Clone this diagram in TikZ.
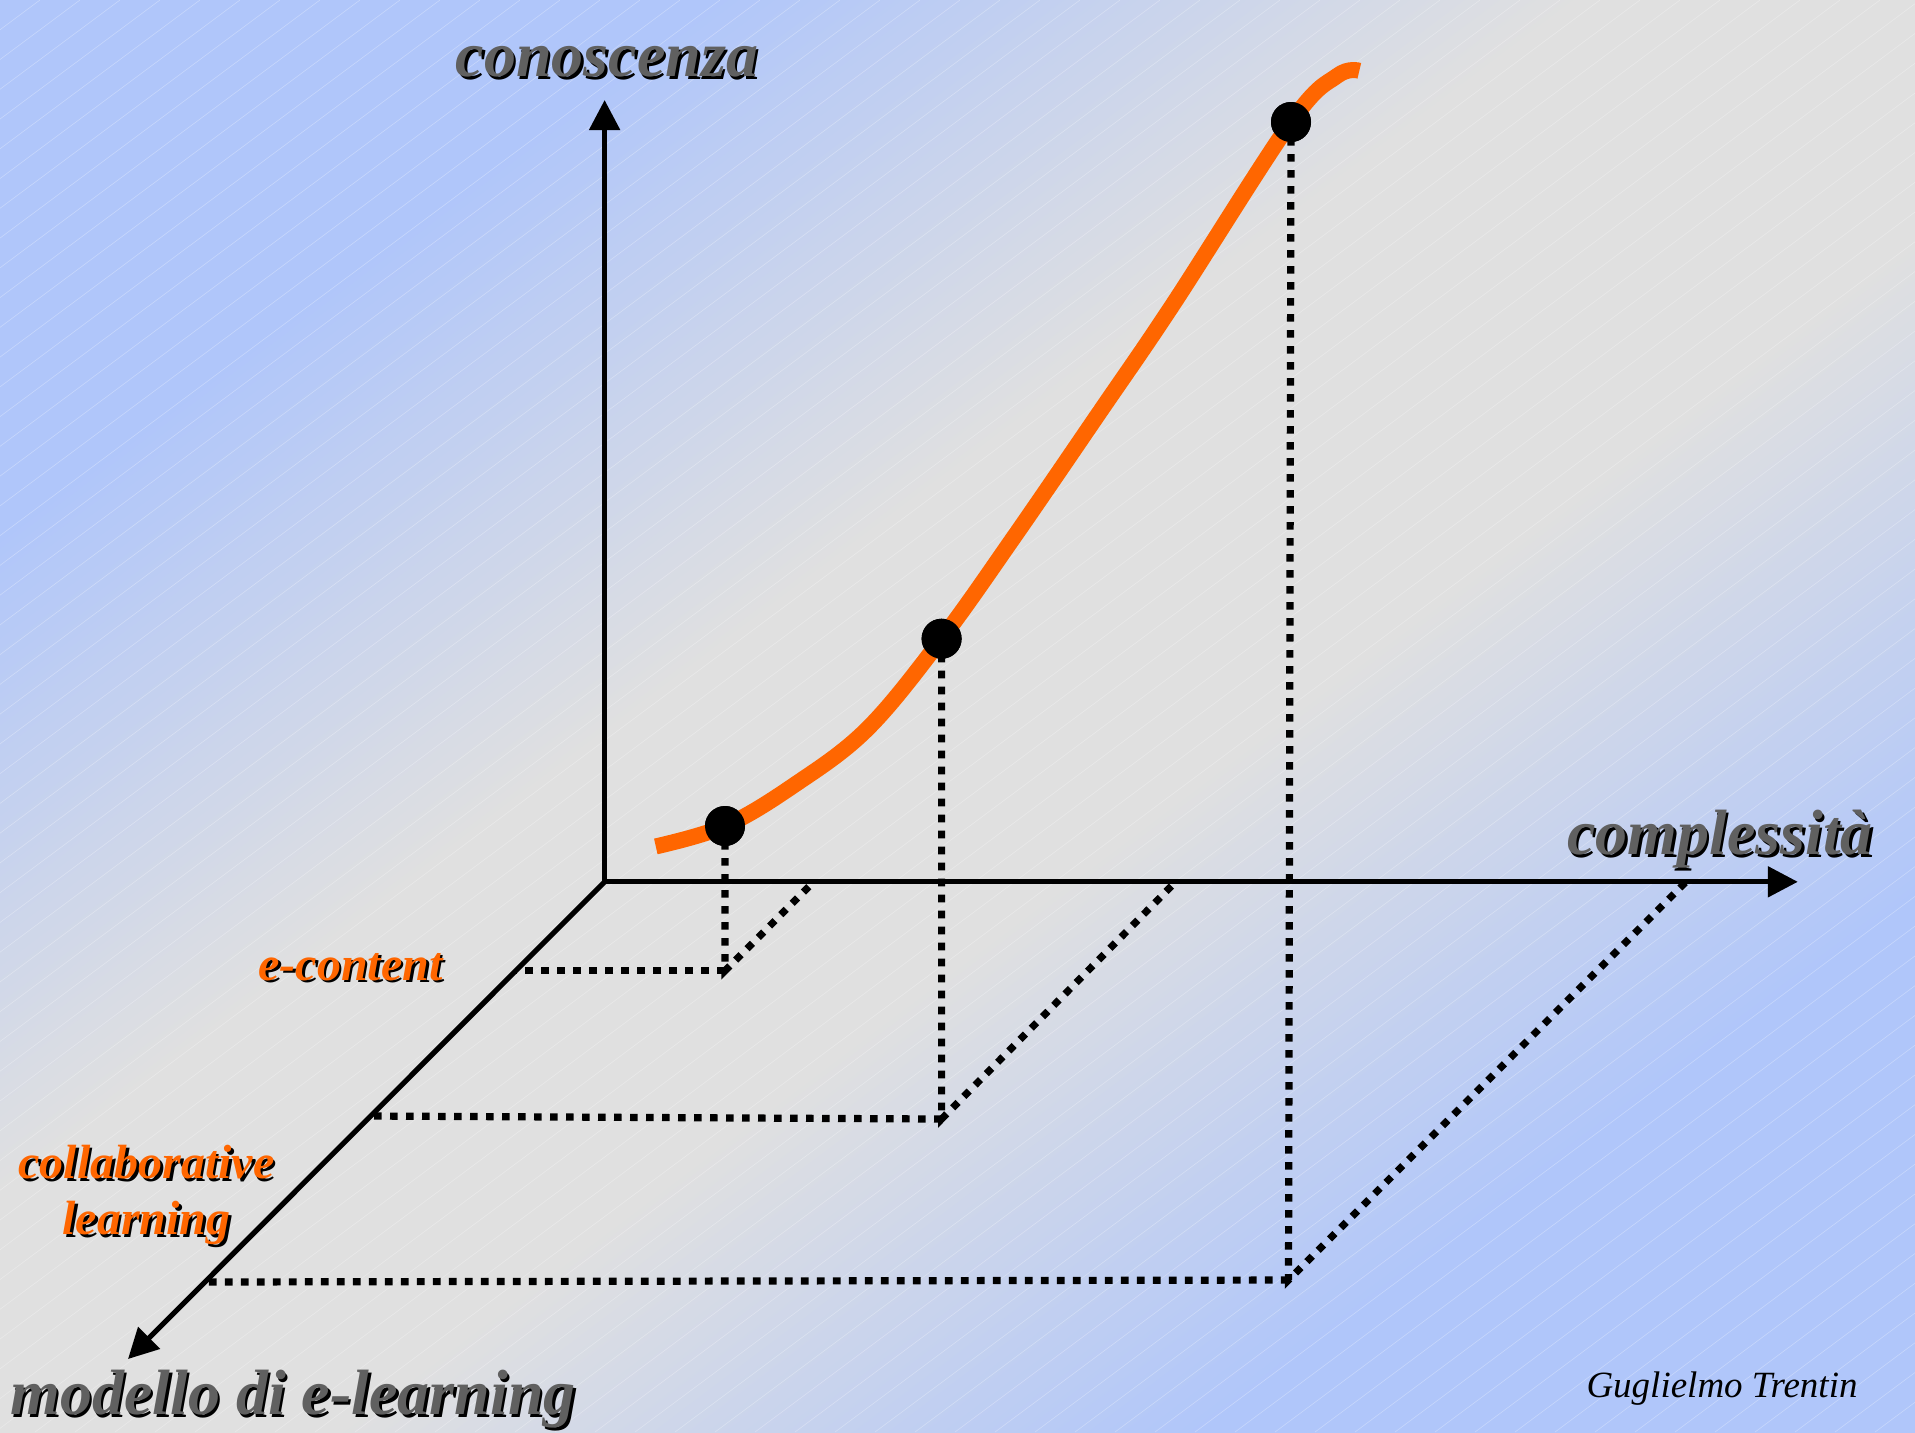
\documentclass[tikz,border=0pt]{standalone}
\usepackage{fontspec}
\setmainfont{Liberation Serif}
\usetikzlibrary{arrows.meta}

\definecolor{sfondoblu}{RGB}{176,198,250}
\definecolor{sfondogrigio}{RGB}{224,224,224}
\definecolor{arancio}{RGB}{255,102,0}
\definecolor{grigiotesto}{RGB}{96,96,96}

\pgfdeclareverticalshading{sfondo}{100bp}{color(0bp)=(sfondoblu); color(28bp)=(sfondoblu);
  color(44bp)=(sfondogrigio); color(56bp)=(sfondogrigio); color(72bp)=(sfondoblu); color(100bp)=(sfondoblu)}

\tikzset{
  asse/.style={line width=2.6pt, -{Triangle[length=15pt,width=15pt]}},
  proiezione/.style={line width=3.6pt, dash pattern=on 3.8pt off 4.2pt},
  punto/.style={circle, fill=black, inner sep=0pt, minimum size=20pt},
  titolo/.style={font=\fontsize{32}{36}\selectfont\bfseries\itshape, text=grigiotesto, inner sep=0pt},
  etichetta/.style={font=\fontsize{24}{28}\selectfont\bfseries\itshape, text=arancio, align=center, inner sep=0pt},
  ombra/.style={text=black, xshift=1.3pt, yshift=-1.3pt},
}

\begin{document}
\begin{tikzpicture}[x=0.5pt, y=-0.5pt]
        % Sfondo
        \shade[shading=sfondo, shading angle=37] (0,0) rectangle (1915,1432);
        \begin{scope}
          \clip (0,0) rectangle (1915,1432);
          \foreach \x in {0,40,...,3840}
            \draw[white, opacity=0.3, line width=0.3pt] (\x,0) -- (\x-1925,1432);
        \end{scope}

        % Assi
        \coordinate (origine) at (604.6,881.8);
        \coordinate (asseY) at (604.6,100);
        \coordinate (asseX) at (1797.8,881.8);
        \coordinate (asseZ) at (128,1359);

        % Punti della curva
        \node (p1) [punto] at (725,826) {};
        \node (p2) [punto] at (941.6,638.7) {};
        \node (p3) [punto] at (1291,122) {};

        % Proiezioni sul piano
        \coordinate (base1) at (725,970.8);
        \coordinate (base2) at (941.6,1119);
        \coordinate (base3) at (1288.5,1280);
        \coordinate (x1) at (813.6,881.8);
        \coordinate (x2) at (1175.6,881.8);
        \coordinate (x3) at (1686,881.8);
        \coordinate (z1) at (515.6,970.8);
        \coordinate (z2) at (368.6,1116);
        \coordinate (z3) at (206.6,1282);

        \draw[proiezione] (p1.center) -- (base1) -- (x1);
        \draw[proiezione] (base1) -- (z1);
        \draw[proiezione] (p2.center) -- (base2) -- (x2);
        \draw[proiezione] (base2) -- (z2);
        \draw[proiezione] (p3.center) -- (base3) -- (x3);
        \draw[proiezione] (base3) -- (z3);

        % Frecce
        \draw[asse] (origine) -- (asseY);
        \draw[asse] (origine) -- (asseX);
        \draw[asse] (origine) -- (asseZ);

        % Curva
        \draw[arancio, line width=8pt] plot[smooth, tension=0.6] coordinates {
          (655.8,846.4) (725,826) (793.8,785.3) (867.1,729.1) (941.6,638.7)
          (1013.7,537.4) (1099.2,412.8) (1172.4,305.3) (1291,122)
          (1337.3,75.7) (1359.3,70.8)};
        \node[punto] at (p1) {};
        \node[punto] at (p2) {};
        \node[punto] at (p3) {};

        % Etichette
        \node (conoscenzaOmbra) [titolo, ombra] at (607,62) {conoscenza};
        \node (conoscenza) [titolo] at (607,62) {conoscenza};
        \node (complessitaOmbra) [titolo, ombra] at (1720,839) {complessità};
        \node (complessita) [titolo] at (1720,839) {complessità};
        \node (modelloOmbra) [titolo, ombra] at (293,1399) {modello di e-learning};
        \node (modello) [titolo] at (293,1399) {modello di e-learning};
        \node (econtentOmbra) [etichetta, ombra] at (350.5,967) {e-content};
        \node (econtent) [etichetta] at (350.5,967) {e-content};
        \node (collabOmbra) [etichetta, ombra] at (146.6,1195) {collaborative\\learning};
        \node (collab) [etichetta] at (146.6,1195) {collaborative\\learning};
        \node (autore) [font=\fontsize{18.5}{20}\selectfont\itshape, inner sep=0pt] at (1722,1389) {Guglielmo Trentin};
    \end{tikzpicture}
\end{document}
